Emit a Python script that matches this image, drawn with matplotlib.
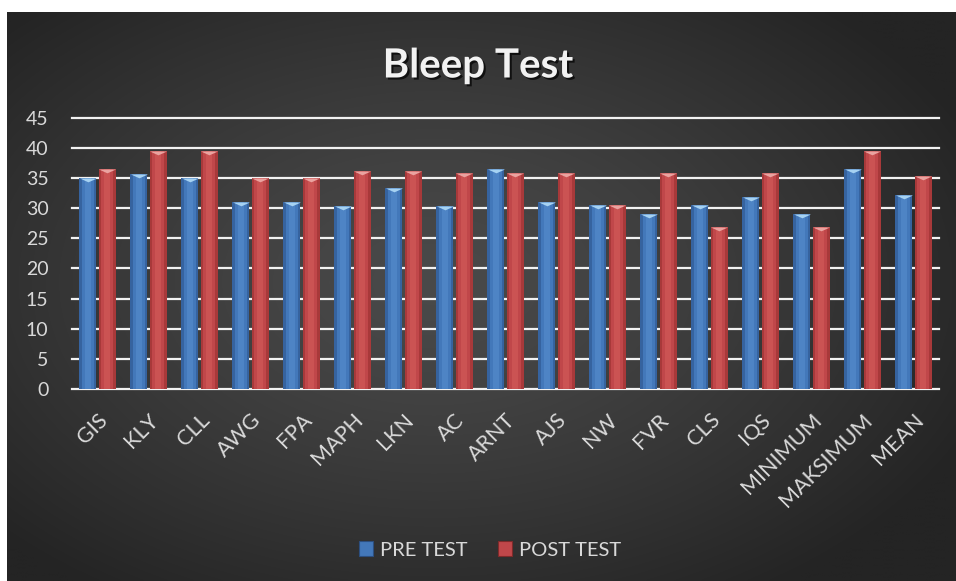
import numpy as np
import matplotlib
matplotlib.use('Agg')
import matplotlib.pyplot as plt
from matplotlib.path import Path
from matplotlib.patches import Patch
import matplotlib.patheffects as pe

categories = ['GIS', 'KLY', 'CLL', 'AWG', 'FPA', 'MAPH', 'LKN', 'AC', 'ARNT', 'AJS',
              'NW', 'FVR', 'CLS', 'IQS', 'MINIMUM', 'MAKSIMUM', 'MEAN']
pre_test = [35.0, 35.6, 35.0, 31.1, 31.1, 30.3, 33.3, 30.3, 36.5, 31.1,
            30.5, 29.1, 30.5, 31.9, 29.1, 36.5, 32.2]
post_test = [36.5, 39.5, 39.5, 35.0, 35.0, 36.2, 36.2, 35.9, 35.9, 35.9,
             30.5, 35.9, 26.8, 35.9, 26.8, 39.5, 35.3]
series_names = ['PRE TEST', 'POST TEST']
yticks = [0, 5, 10, 15, 20, 25, 30, 35, 40, 45]

FONT = ['Lato', 'DejaVu Sans']
plt.rcParams['font.family'] = FONT
TXT = '#d9d9d9'

W, H = 956, 581
fig = plt.figure(figsize=(W / 100, H / 100), dpi=100, facecolor='white')

# background with radial gradient
bg = fig.add_axes([7 / W, 0, (W - 7) / W, (H - 12) / H])
gx, gy = np.meshgrid(np.linspace(-1, 1, 400), np.linspace(-1, 1, 250))
r = np.sqrt(((gx + 0.1) / 1.0) ** 2 + ((gy + 0.05) / 1.05) ** 2)
val = (74 - 38 * np.clip(r / 1.25, 0, 1) ** 1.3) / 255.0
img = np.dstack([val, val, val])
bg.imshow(img, aspect='auto', extent=[0, 1, 0, 1], interpolation='bilinear')
bg.set_axis_off()

ax = fig.add_axes([72 / W, 192 / H, 867 / W, 271.3 / H])
ax.set_facecolor('none')
x = np.arange(len(categories))
off = 0.19
bw = 0.33

def draw_series(xpos, vals, edge_c, mid_c, light_c, cap_c):
    ax.bar(xpos, vals, width=bw, color=edge_c, zorder=3, linewidth=0)
    ax.bar(xpos, vals, width=bw * 0.72, color=mid_c, zorder=3.1, linewidth=0)
    ax.bar(xpos, vals, width=bw * 0.35, color=light_c, zorder=3.2, linewidth=0, alpha=0.5)
    cap = Path([(-1, 0), (1, 0), (0, -0.45), (-1, 0)],
               [Path.MOVETO, Path.LINETO, Path.LINETO, Path.CLOSEPOLY])
    ax.scatter(xpos, vals, marker=cap, s=17 ** 2 * 0.52, color=cap_c,
               zorder=4, linewidths=0)

draw_series(x - off, pre_test, '#36639f', '#4378ba', '#5a90d0', '#a6d2f2')
draw_series(x + off, post_test, '#a8393a', '#c0474a', '#d6605d', '#eaa3a0')

ax.set_xlim(-0.5, len(categories) - 0.5)
ax.set_ylim(0, 45)
ax.set_yticks(yticks)
ax.set_yticklabels([str(v) for v in yticks], color=TXT, fontsize=14)
ax.tick_params(axis='y', length=0, pad=17)
ax.set_xticks(x)
ax.set_xticklabels(categories, rotation=45, ha='right', rotation_mode='anchor',
                   color=TXT, fontsize=15.5)
ax.tick_params(axis='x', length=0, pad=15)
for s in ax.spines.values():
    s.set_visible(False)
ax.yaxis.grid(True, color='#f2f2f2', linewidth=1.6, zorder=1)
ax.set_axisbelow(True)
for gl in ax.get_ygridlines():
    gl.set_clip_on(False)

fig.text(0.5, 1 - 66 / H, 'Bleep Test', ha='center', va='center',
         fontsize=29, fontweight='bold', color='#f2f2f2',
         path_effects=[pe.withSimplePatchShadow(offset=(1.5, -1.5),
                                                shadow_rgbFace='black', alpha=0.7)])

handles = [Patch(facecolor='#4378ba', edgecolor='#2c4f80', linewidth=0.8),
           Patch(facecolor='#c0474a', edgecolor='#7f2a2a', linewidth=0.8)]
leg = fig.legend(handles, series_names, loc='center', bbox_to_anchor=(490 / W, 1 - 550 / H),
                 ncol=2, frameon=False, fontsize=14.5, handlelength=0.7, handleheight=0.7,
                 handletextpad=0.35, columnspacing=1.5, labelcolor=TXT)

fig.savefig('out.png', dpi=100, facecolor='white')
